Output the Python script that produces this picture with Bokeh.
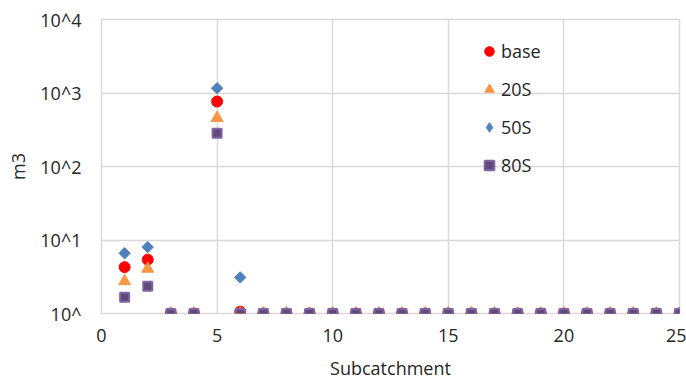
import numpy as np
from bokeh.plotting import figure
from bokeh.models import ColumnDataSource, FixedTicker, Legend, LegendItem, Range1d
from bokeh.embed import file_html
from bokeh.resources import INLINE

subcatchment = list(range(1, 26))
base = [4.27, 5.4, 1, 1, 766, 1.06] + [1] * 19
s20 = [2.75, 4.06, 1, 1, 458, 1] + [1] * 19
s50 = [6.6, 8.0, 1, 1, 1163, 3.1] + [1] * 19
s80 = [1.67, 2.35, 1, 1, 283, 1] + [1] * 19

y_ticks = [1, 10, 100, 1000, 10000]
y_tick_labels = ["10^", "10^1", "10^2", "10^3", "10^4"]
x_ticks = [0, 5, 10, 15, 20, 25]

FONT = "Open Sans"
TXT = "#262626"
GRID = "#d9d9d9"
FS = "18px"

p = figure(width=686, height=383, y_axis_type="log", output_backend="svg",
           toolbar_location=None, x_range=Range1d(0, 25), y_range=Range1d(1, 10000),
           min_border_left=101, min_border_top=19, min_border_bottom=70, min_border_right=7)

src = ColumnDataSource(dict(x=subcatchment, base=base, s20=s20, s50=s50, s80=s80))

r_base = p.scatter("x", "base", source=src, marker="circle", size=11,
                   fill_color="#ff0000", line_color="#ff0000")
r_20 = p.scatter("x", "s20", source=src, marker="triangle", size=12,
                 fill_color="#f79646", line_color="#f79646")
# small diamond drawn under the 50S markers; gives the legend a diamond icon
r_50_key = p.scatter("x", "s50", source=src, marker="diamond", size=5,
                     fill_color="#4f81bd", line_color="#4f81bd")
r_50 = p.scatter("x", "s50", source=src, marker="square", angle=np.pi / 4, size=8,
                 fill_color="#4f81bd", line_color="#4f81bd")
r_80 = p.scatter("x", "s80", source=src, marker="square", size=9,
                 fill_color="#5f497a", line_color="#8064a2", line_width=2)

p.xaxis.ticker = FixedTicker(ticks=x_ticks)
p.yaxis.ticker = FixedTicker(ticks=y_ticks)
p.yaxis.major_label_overrides = {t: l for t, l in zip(y_ticks, y_tick_labels)}

for ax in (p.xaxis[0], p.yaxis[0]):
    ax.axis_line_color = None
    ax.major_tick_line_color = None
    ax.minor_tick_line_color = None
    ax.major_tick_out = 0
    ax.major_tick_in = 0
    ax.minor_tick_out = 0
    ax.minor_tick_in = 0
    ax.major_label_text_font = FONT
    ax.major_label_text_font_size = FS
    ax.major_label_text_color = TXT
    ax.axis_label_text_font = FONT
    ax.axis_label_text_font_size = FS
    ax.axis_label_text_font_style = "normal"
    ax.axis_label_text_color = TXT

p.xaxis.axis_label = "Subcatchment"
p.yaxis.axis_label = "m3"
p.xaxis.major_label_standoff = 15
p.xaxis.axis_label_standoff = 11
p.yaxis.major_label_standoff = 20
p.yaxis.axis_label_standoff = 7

p.xgrid.grid_line_color = GRID
p.ygrid.grid_line_color = GRID
p.xgrid.grid_line_width = 1.5
p.ygrid.grid_line_width = 1.5
p.ygrid.minor_grid_line_color = None
p.outline_line_color = GRID
p.outline_line_width = 1.5
p.background_fill_color = "white"
p.border_fill_color = "white"

legend = Legend(items=[
    LegendItem(label="base", renderers=[r_base]),
    LegendItem(label="20S", renderers=[r_20]),
    LegendItem(label="50S", renderers=[r_50_key]),
    LegendItem(label="80S", renderers=[r_80]),
], location=(376, 135))
legend.background_fill_alpha = 0
legend.border_line_color = None
legend.label_text_font = FONT
legend.label_text_font_size = FS
legend.label_text_color = TXT
legend.glyph_width = 24
legend.glyph_height = 26
legend.label_height = 26
legend.spacing = 12
legend.padding = 0
legend.margin = 0
legend.label_standoff = -3
p.add_layout(legend)

open("out.html", "w").write(file_html(p, INLINE))
